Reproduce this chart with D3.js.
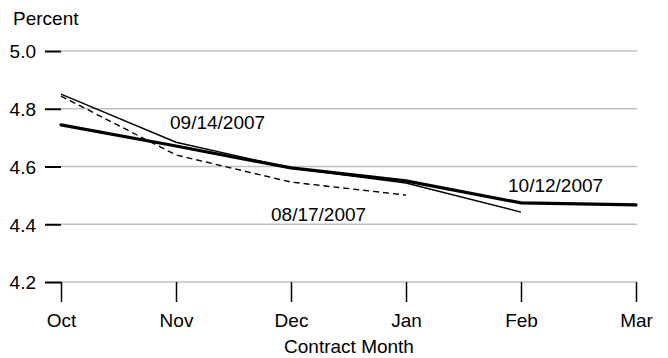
<!DOCTYPE html>
<html><head><meta charset="utf-8">
<script src="https://cdn.jsdelivr.net/npm/d3@7"></script>
<style>body{margin:0;background:#fff}svg{display:block;font-family:"Liberation Sans",Arial,sans-serif}</style>
</head><body><svg id="c" width="668" height="358"></svg>
<script>
const months = ["Oct","Nov","Dec","Jan","Feb","Mar"];
const yTicks = [4.2,4.4,4.6,4.8,5.0];
const s1012 = [4.744,4.671,4.595,4.550,4.474,4.467];
const s0914 = [4.851,4.684,4.595,4.543,4.442];
const s0817 = [4.844,4.640,4.546,4.501];
const labels = [
  {text:"09/14/2007", m:"Nov", v:4.729, dx:-6},
  {text:"08/17/2007", m:"Dec", v:4.411, dx:-20},
  {text:"10/12/2007", m:"Feb", v:4.513, dx:-13}
];

const FS = 19;
const svg = d3.select("#c");
const x = d3.scalePoint().domain(months).range([61,636]);
const y = d3.scaleLinear().domain([4.2,5.0]).range([282,51]);

// gridlines
svg.append("g").selectAll("line").data(yTicks).join("line")
  .attr("x1",61).attr("x2",637).attr("y1",d=>y(d)).attr("y2",d=>y(d))
  .attr("stroke","#c0c0c0").attr("stroke-width",1.3);

// y axis
const ya = svg.append("g").attr("transform","translate(61,0)")
  .call(d3.axisLeft(y).tickValues(yTicks).tickFormat(d3.format(".1f")).tickSize(16).tickPadding(9));
ya.select(".domain").remove();
ya.selectAll("line").attr("stroke","#000").attr("stroke-width",2);
ya.selectAll("text").attr("font-size",FS).attr("fill","#000").attr("dy","0.36em").style("font-family","Liberation Sans, Arial, sans-serif");

// x axis
const xa = svg.append("g").attr("transform","translate(0,282)")
  .call(d3.axisBottom(x).tickSize(20).tickPadding(11.5));
xa.select(".domain").remove();
xa.selectAll("line").attr("stroke","#000").attr("stroke-width",1.5);
xa.selectAll("text").attr("font-size",FS).attr("fill","#000").style("font-family","Liberation Sans, Arial, sans-serif");

const line = d3.line().x((d,i)=>x(months[i])).y(d=>y(d));
svg.append("path").datum(s0817).attr("d",line).attr("fill","none").attr("stroke","#000").attr("stroke-width",1.4).attr("stroke-dasharray","6,4");
svg.append("path").datum(s0914).attr("d",line).attr("fill","none").attr("stroke","#000").attr("stroke-width",1.4);
svg.append("path").datum(s1012).attr("d",line).attr("fill","none").attr("stroke","#000").attr("stroke-width",3.2).attr("stroke-linecap","round");

svg.append("g").selectAll("text").data(labels).join("text")
  .attr("x",d=>x(d.m)+d.dx).attr("y",d=>y(d.v)).attr("font-size",FS).attr("fill","#000").text(d=>d.text);

svg.append("text").attr("x",13).attr("y",25).attr("font-size",FS).text("Percent");
svg.append("text").attr("x",349).attr("y",353).attr("text-anchor","middle").attr("font-size",FS).text("Contract Month");
</script></body></html>
